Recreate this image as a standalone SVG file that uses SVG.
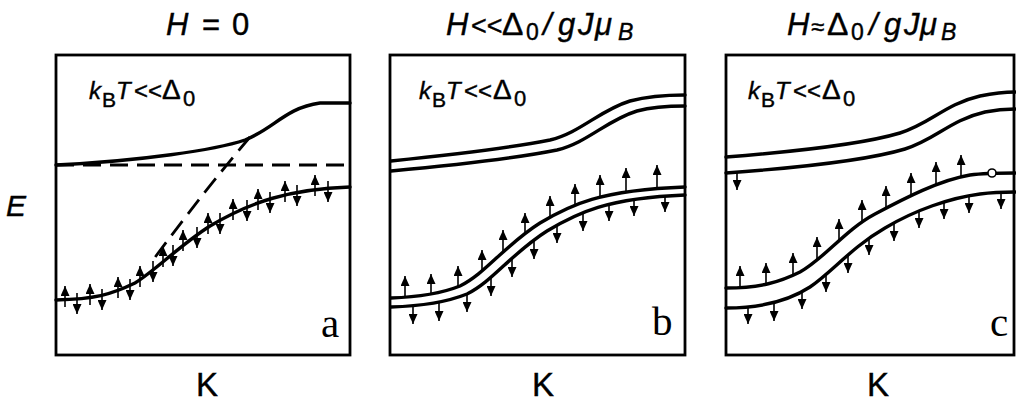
<svg xmlns="http://www.w3.org/2000/svg" width="1016" height="401" viewBox="0 0 1016 401">
<style>
.bg{fill:#fff}
.box{fill:none;stroke:#000;stroke-width:2.8}
.cv{fill:none;stroke:#000;stroke-width:3.4;stroke-linecap:round;stroke-linejoin:round}
.dash{fill:none;stroke:#000;stroke-width:2.8;stroke-dasharray:18 9}
.ar{stroke:#000;stroke-width:1.6;marker-end:url(#ah)}
.t{font-family:"Liberation Sans",Arial,sans-serif;fill:#000;stroke:#000;stroke-width:0.4}
.i{font-style:italic}
.pl{font-family:"Liberation Serif","Times New Roman",serif;font-size:41px;fill:#000}
</style>
<defs>
<marker id="ah" viewBox="0 0 10 10" refX="10" refY="5" markerWidth="10" markerHeight="9" markerUnits="userSpaceOnUse" orient="auto" preserveAspectRatio="none"><path d="M0,0 L10,5 L0,10 z" fill="#000"/></marker>
</defs>
<rect class="bg" x="0" y="0" width="1016" height="401"/>

<g id="titles" class="t" font-size="31">
<text y="35"><tspan x="166" class="i">H</tspan><tspan x="202">=</tspan><tspan x="232">0</tspan></text>
<text y="35"><tspan x="446" class="i">H</tspan><tspan x="471" font-size="27">&lt;&lt;</tspan><tspan x="502" font-size="32">Δ</tspan><tspan x="526" y="40" font-size="23">0</tspan><tspan x="543" y="35" class="i">/</tspan><tspan x="558" class="i">g</tspan><tspan x="578" class="i">J</tspan><tspan x="595" class="i">μ</tspan><tspan x="618" y="40" font-size="23" class="i">B</tspan></text>
<text y="35"><tspan x="787" class="i">H</tspan><tspan x="811" font-size="24">≈</tspan><tspan x="827" font-size="32">Δ</tspan><tspan x="851" y="40" font-size="23">0</tspan><tspan x="869" y="35" class="i">/</tspan><tspan x="884" class="i">g</tspan><tspan x="904" class="i">J</tspan><tspan x="920" class="i">μ</tspan><tspan x="941" y="40" font-size="23" class="i">B</tspan></text>
</g>

<g id="axis-labels" class="t">
<text x="6" y="216" font-size="30" class="i">E</text>
<text x="207" y="396" font-size="33" text-anchor="middle">K</text>
<text x="543" y="396" font-size="33" text-anchor="middle">K</text>
<text x="878" y="396" font-size="33" text-anchor="middle">K</text>
</g>

<g id="panel-a">
<rect class="box" x="56" y="55" width="294" height="300"/>
<text class="t" font-size="24" y="99"><tspan x="89" class="i">k</tspan><tspan x="102" y="107" font-size="21">B</tspan><tspan x="116" y="99" class="i">T</tspan><tspan x="134">&lt;&lt;</tspan><tspan x="162" font-size="28">Δ</tspan><tspan x="183" y="106" font-size="22">0</tspan></text>
<line class="dash" x1="56" y1="165" x2="345" y2="165"/>
<path class="dash" d="M250,137 Q205,190 153,260"/>
<path class="cv" d="M56,165 C140,161 215,150 245,140 C275,128 285,108 320,103 L350,103"/>
<path class="cv" d="M56,300 C95,299 110,295 135,283 C155,271 180,245 210,226 C250,202 290,189 350,187"/>
<g id="spins-a">
<line class="ar" x1="65" y1="307" x2="65" y2="286"/>
<line class="ar" x1="90" y1="305" x2="90" y2="284"/>
<line class="ar" x1="118" y1="298" x2="118" y2="277"/>
<line class="ar" x1="140" y1="287" x2="140" y2="266"/>
<line class="ar" x1="163" y1="267" x2="163" y2="246"/>
<line class="ar" x1="183" y1="251" x2="183" y2="230"/>
<line class="ar" x1="208" y1="234" x2="208" y2="213"/>
<line class="ar" x1="233" y1="220" x2="233" y2="199"/>
<line class="ar" x1="258" y1="210" x2="258" y2="189"/>
<line class="ar" x1="285" y1="202" x2="285" y2="181"/>
<line class="ar" x1="315" y1="196" x2="315" y2="175"/>
<line class="ar" x1="77" y1="293" x2="77" y2="314"/>
<line class="ar" x1="102" y1="289" x2="102" y2="310"/>
<line class="ar" x1="130" y1="279" x2="130" y2="300"/>
<line class="ar" x1="153" y1="261" x2="153" y2="282"/>
<line class="ar" x1="173" y1="245" x2="173" y2="266"/>
<line class="ar" x1="197" y1="227" x2="197" y2="248"/>
<line class="ar" x1="220" y1="213" x2="220" y2="234"/>
<line class="ar" x1="247" y1="200" x2="247" y2="221"/>
<line class="ar" x1="270" y1="192" x2="270" y2="213"/>
<line class="ar" x1="297" y1="185" x2="297" y2="206"/>
<line class="ar" x1="328" y1="181" x2="328" y2="202"/>
</g>
<text class="pl" x="321" y="337">a</text>
</g>

<g id="panel-b">
<rect class="box" x="390" y="55" width="295" height="300"/>
<text class="t" font-size="24" y="99"><tspan x="419" class="i">k</tspan><tspan x="432" y="107" font-size="21">B</tspan><tspan x="446" y="99" class="i">T</tspan><tspan x="464">&lt;&lt;</tspan><tspan x="493" font-size="28">Δ</tspan><tspan x="514" y="106" font-size="22">0</tspan></text>
<path class="cv" d="M391,161 C450,155 510,148 550,140 C580,133 600,110 630,101 C645,97 660,95 685,95"/>
<path class="cv" d="M391,171 C457,165 517,158 557,150 C587,143 607,120 637,111 C652,107 667,106 685,106"/>
<path class="cv" d="M391,298 C420,297 440,294 460,286 C485,274 505,245 540,223 C570,205 600,190 685,187"/>
<path class="cv" d="M391,307 C425,306 447,302 467,294 C492,282 512,253 547,231 C577,213 607,198 685,195"/>
<g id="spins-b">
<line class="ar" x1="405" y1="297" x2="405" y2="276"/>
<line class="ar" x1="431" y1="295" x2="431" y2="274"/>
<line class="ar" x1="458" y1="287" x2="458" y2="266"/>
<line class="ar" x1="482" y1="271" x2="482" y2="250"/>
<line class="ar" x1="503" y1="251" x2="503" y2="230"/>
<line class="ar" x1="525" y1="234" x2="525" y2="213"/>
<line class="ar" x1="550" y1="217" x2="550" y2="196"/>
<line class="ar" x1="575" y1="205" x2="575" y2="184"/>
<line class="ar" x1="600" y1="197" x2="600" y2="175"/>
<line class="ar" x1="626" y1="192" x2="626" y2="168"/>
<line class="ar" x1="657" y1="189" x2="657" y2="165"/>
<line class="ar" x1="413" y1="305" x2="413" y2="324"/>
<line class="ar" x1="439" y1="303" x2="439" y2="321"/>
<line class="ar" x1="467" y1="294" x2="467" y2="312"/>
<line class="ar" x1="491" y1="277" x2="491" y2="296"/>
<line class="ar" x1="512" y1="258" x2="512" y2="277"/>
<line class="ar" x1="534" y1="241" x2="534" y2="259"/>
<line class="ar" x1="557" y1="225" x2="557" y2="243"/>
<line class="ar" x1="583" y1="213" x2="583" y2="231"/>
<line class="ar" x1="609" y1="204" x2="609" y2="221"/>
<line class="ar" x1="634" y1="200" x2="634" y2="216"/>
<line class="ar" x1="665" y1="196" x2="665" y2="212"/>
</g>
<text class="pl" x="652" y="335">b</text>
</g>

<g id="panel-c">
<rect class="box" x="726" y="55" width="288" height="300"/>
<text class="t" font-size="24" y="99"><tspan x="748" class="i">k</tspan><tspan x="761" y="107" font-size="21">B</tspan><tspan x="775" y="99" class="i">T</tspan><tspan x="793">&lt;&lt;</tspan><tspan x="822" font-size="28">Δ</tspan><tspan x="843" y="106" font-size="22">0</tspan></text>
<path class="cv" d="M726,157 C790,152 860,145 900,133 C930,124 945,104 980,96 C995,93 1005,92 1015,92"/>
<path class="cv" d="M726,173 C795,168 865,161 905,149 C935,140 950,120 985,112 C1000,109 1008,109 1015,109"/>
<path class="cv" d="M726,288 C760,288 780,282 800,272 C825,258 845,230 875,214 C905,198 940,180 970,175 C985,173 1000,173 1015,173"/>
<path class="cv" d="M726,308 C765,308 790,300 810,287 C832,272 852,247 885,228 C915,210 950,198 980,194 C995,192 1005,192 1015,192"/>
<circle cx="992" cy="173" r="4" fill="#fff" stroke="#000" stroke-width="1.6"/>
<g id="spins-c">
<line class="ar" x1="737" y1="172" x2="737" y2="190"/>
<line class="ar" x1="740" y1="288" x2="740" y2="266"/>
<line class="ar" x1="766" y1="285" x2="766" y2="263"/>
<line class="ar" x1="793" y1="276" x2="793" y2="253"/>
<line class="ar" x1="817" y1="260" x2="817" y2="237"/>
<line class="ar" x1="839" y1="241" x2="839" y2="219"/>
<line class="ar" x1="862" y1="222" x2="862" y2="200"/>
<line class="ar" x1="886" y1="208" x2="886" y2="186"/>
<line class="ar" x1="911" y1="196" x2="911" y2="173"/>
<line class="ar" x1="936" y1="185" x2="936" y2="162"/>
<line class="ar" x1="961" y1="177" x2="961" y2="155"/>
<line class="ar" x1="748" y1="307" x2="748" y2="324"/>
<line class="ar" x1="774" y1="304" x2="774" y2="321"/>
<line class="ar" x1="802" y1="292" x2="802" y2="309"/>
<line class="ar" x1="826" y1="274" x2="826" y2="292"/>
<line class="ar" x1="848" y1="255" x2="848" y2="273"/>
<line class="ar" x1="869" y1="238" x2="869" y2="255"/>
<line class="ar" x1="894" y1="223" x2="894" y2="241"/>
<line class="ar" x1="919" y1="211" x2="919" y2="228"/>
<line class="ar" x1="944" y1="202" x2="944" y2="219"/>
<line class="ar" x1="969" y1="196" x2="969" y2="213"/>
<line class="ar" x1="1001" y1="192" x2="1001" y2="209"/>
</g>
<text class="pl" x="990" y="336">c</text>
</g>
</svg>
